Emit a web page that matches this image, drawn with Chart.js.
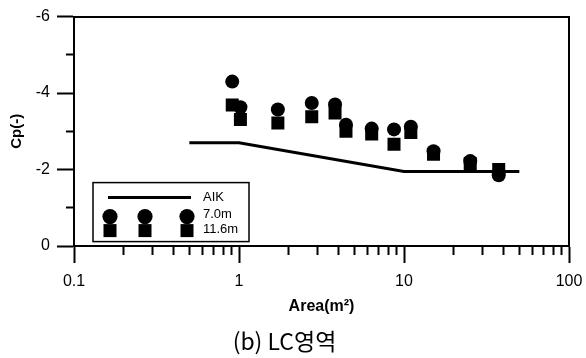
<!DOCTYPE html>
<html><head><meta charset="utf-8">
<script src="https://cdn.jsdelivr.net/npm/chart.js@4/dist/chart.umd.min.js"></script>
<style>html,body{margin:0;padding:0;background:#fff;}canvas{display:block;}</style>
</head><body>
<canvas id="c" width="586" height="358"></canvas>
<script>
// ---- data ----
const areas = [0.91, 1.02, 1.72, 2.76, 3.82, 4.45, 6.37, 8.7, 11.0, 15.1, 25.2, 37.5];
const cp70  = [-4.30, -3.63, -3.57, -3.74, -3.70, -3.17, -3.07, -3.05, -3.12, -2.48, -2.22, -1.85];
const cp116 = [-3.69, -3.31, -3.22, -3.38, -3.48, -3.00, -2.93, -2.66, -2.97, -2.40, -2.16, -2.00];
const aikArea = [0.5, 1, 10, 50];
const aikCp   = [-2.7, -2.7, -1.95, -1.95];
const seriesNames = ['AIK', '7.0m', '11.6m'];
const xTicks = [0.1, 1, 10, 100];
const xTickLabels = ['0.1', '1', '10', '100'];
const xMinorTicks = [0.2, 0.3, 0.4, 0.5, 0.6, 0.7, 0.8, 0.9, 2, 3, 4, 5, 6, 7, 8, 9, 20, 30, 40, 50, 60, 70, 80, 90];
const yTicks = [-6, -4, -2, 0];
const yTickLabels = ['-6', '-4', '-2', '0'];
const yMinorTicks = [-5, -3, -1];
const xTitle = 'Area(m²)';
const yTitle = 'Cp(-)';
const caption = '(b) LC영역';

const black = '#000';
Chart.defaults.font.family = "'Liberation Sans', Arial, sans-serif";
Chart.defaults.color = black;

const boxLegend = {
  id: 'boxLegend',
  afterDraw(chart) {
    const {ctx, chartArea: a} = chart;
    const ds = chart.data.datasets;
    const L = a.left + 19, T = a.top + 166, W = 156, H = 59;
    ctx.save();
    ctx.fillStyle = '#fff';
    ctx.fillRect(L, T, W, H);
    ctx.strokeStyle = black; ctx.lineWidth = 1.5;
    ctx.strokeRect(L, T, W, H);
    const rowY = [T + 15, T + 34, T + 48];
    const textY = [T + 15, T + 32, T + 47];
    const markX = [L + 17, L + 52, L + 94];
    ctx.beginPath();
    ctx.moveTo(L + 15, rowY[0]); ctx.lineTo(L + 98, rowY[0]);
    ctx.lineWidth = ds[0].borderWidth; ctx.strokeStyle = ds[0].borderColor;
    ctx.stroke();
    for (let i = 1; i < 3; i++) {
      ctx.fillStyle = ds[i].backgroundColor;
      const r = ds[i].pointStyle === 'circle' ? ds[i].pointRadius + 0.6 : ds[i].pointRadius;
      markX.forEach(x => Chart.helpers.drawPoint(ctx, {pointStyle: ds[i].pointStyle, radius: r, borderWidth: 0, rotation: 0}, x, rowY[i]));
    }
    ctx.fillStyle = black;
    ctx.font = "13px 'Liberation Sans', Arial, sans-serif";
    ctx.textBaseline = 'middle'; ctx.textAlign = 'left';
    for (let i = 0; i < 3; i++) ctx.fillText(ds[i].label, L + 110, textY[i]);
    ctx.restore();
  }
};

new Chart(document.getElementById('c'), {
  type: 'scatter',
  data: {
    datasets: [
      { label: seriesNames[0], data: aikArea.map((x, i) => ({x, y: aikCp[i]})), showLine: true,
        borderColor: black, backgroundColor: black, borderWidth: 3, pointRadius: 0, tension: 0 },
      { label: seriesNames[1], data: areas.map((x, i) => ({x, y: cp70[i]})), pointStyle: 'circle',
        pointRadius: 7, backgroundColor: black, borderWidth: 0 },
      { label: seriesNames[2], data: areas.map((x, i) => ({x, y: cp116[i]})), pointStyle: 'rect',
        pointRadius: 9.2, backgroundColor: black, borderWidth: 0 }
    ]
  },
  options: {
    responsive: false, animation: false, events: [],
    layout: { padding: { top: 16, right: 17, left: 0, bottom: 0 } },
    plugins: {
      legend: { display: false }, tooltip: { enabled: false },
      title: { display: true, position: 'bottom', text: caption, color: black,
        font: { family: "'Noto Sans CJK KR', 'Noto Sans', sans-serif", size: 23, weight: 'normal' },
        padding: { top: 0, bottom: 3 } }
    },
    scales: {
      x: { type: 'logarithmic', position: 'bottom', min: 0.1, max: 100, weight: 0,
        afterBuildTicks: s => { s.ticks = xTicks.map(v => ({value: v})); },
        ticks: { callback: (v, i) => xTickLabels[i], font: { size: 16 }, color: black, padding: 9, autoSkip: false, maxRotation: 0 },
        grid: { drawOnChartArea: false, drawTicks: true, tickLength: 17, tickWidth: 2, tickColor: black },
        border: { display: true, color: black, width: 2 },
        title: { display: true, text: xTitle, color: black, font: { size: 16, weight: 'bold' }, padding: { top: 0, bottom: 11 } },
        afterFit: s => { s.height = 81.4; s.paddingLeft = 0; s.paddingRight = 0; } },
      xMinor: { axis: 'x', type: 'logarithmic', position: 'bottom', min: 0.1, max: 100, weight: -10,
        afterBuildTicks: s => { s.ticks = xMinorTicks.map(v => ({value: v})); },
        ticks: { display: false },
        grid: { drawOnChartArea: false, drawTicks: true, tickLength: 9, tickWidth: 2, tickColor: black },
        border: { display: false },
        afterFit: s => { s.height = 0; s.paddingLeft = 0; s.paddingRight = 0; } },
      xTop: { axis: 'x', type: 'logarithmic', position: 'top', min: 0.1, max: 100,
        ticks: { display: false }, grid: { display: false },
        border: { display: true, color: black, width: 2 },
        afterFit: s => { s.height = 0; s.paddingLeft = 0; s.paddingRight = 0; } },
      y: { type: 'linear', position: 'left', min: -6, max: 0, reverse: true, weight: 0,
        afterBuildTicks: s => { s.ticks = yTicks.map(v => ({value: v})); },
        ticks: { callback: (v, i) => yTickLabels[i], font: { size: 16 }, color: black, padding: 7, autoSkip: false },
        grid: { drawOnChartArea: false, drawTicks: true, tickLength: 17, tickWidth: 2, tickColor: black },
        border: { display: true, color: black, width: 2 },
        title: { display: true, text: yTitle, color: black, font: { size: 15, weight: 'bold' }, padding: { top: 8, bottom: 0 } },
        afterFit: s => { s.width = 74; } },
      yMinor: { axis: 'y', type: 'linear', position: 'left', min: -6, max: 0, reverse: true, weight: -10,
        afterBuildTicks: s => { s.ticks = yMinorTicks.map(v => ({value: v})); },
        ticks: { display: false },
        grid: { drawOnChartArea: false, drawTicks: true, tickLength: 8, tickWidth: 2, tickColor: black },
        border: { display: false },
        afterFit: s => { s.width = 0; } },
      yRight: { axis: 'y', type: 'linear', position: 'right', min: -6, max: 0, reverse: true,
        ticks: { display: false }, grid: { display: false },
        border: { display: true, color: black, width: 2 },
        afterFit: s => { s.width = 0; } }
    }
  },
  plugins: [boxLegend]
});
</script>
</body></html>
